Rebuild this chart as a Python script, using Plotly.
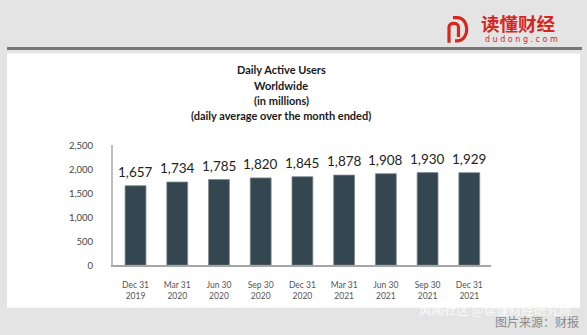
import plotly.graph_objects as go

# ---- data ----
categories = ["Dec 31<br>2019", "Mar 31<br>2020", "Jun 30<br>2020", "Sep 30<br>2020",
              "Dec 31<br>2020", "Mar 31<br>2021", "Jun 30<br>2021", "Sep 30<br>2021",
              "Dec 31<br>2021"]
dau_millions = [1657, 1734, 1785, 1820, 1845, 1878, 1908, 1930, 1929]
value_labels = ["1,657", "1,734", "1,785", "1,820", "1,845", "1,878", "1,908", "1,930", "1,929"]
y_ticks = [0, 500, 1000, 1500, 2000, 2500]
y_tick_labels = ["0", "500", "1,000", "1,500", "2,000", "2,500"]
title_lines = ["Daily Active Users", "Worldwide", "(in millions)",
               "(daily average over the month ended)"]

W, H = 587, 335


def px(x):
    return x / W


def py(y):
    return 1 - y / H


BAR = "#34464f"
RED = "#d8261d"
FONT = "Lato"

fig = go.Figure()
fig.add_trace(go.Bar(
    x=list(range(len(categories))), y=dau_millions, width=0.5,
    marker=dict(color=BAR, line=dict(color="#7d8a91", width=0.8)),
    hoverinfo="skip",
))

annotations = []
for i, (v, lab) in enumerate(zip(dau_millions, value_labels)):
    annotations.append(dict(x=i, y=v, xref="x", yref="y", text=lab, showarrow=False,
                            yanchor="bottom", yshift=4,
                            font=dict(family=FONT, size=13.5, color="#222222")))

# title lines
title_y = [66, 82, 98, 113]
for t, yy in zip(title_lines, title_y):
    annotations.append(dict(x=px(281), y=py(yy), xref="paper", yref="paper", text="<b>" + t + "</b>",
                            showarrow=False, xanchor="center", yanchor="middle",
                            font=dict(family=FONT, size=11, color="#1a1a1a")))

# logo text
annotations.append(dict(x=px(479), y=py(18), xref="paper", yref="paper", text="<b>读懂财经</b>",
                        showarrow=False, xanchor="left", yanchor="middle",
                        font=dict(family="Noto Sans CJK SC", size=18.5, color=RED)))
annotations.append(dict(x=px(483), y=py(35), xref="paper", yref="paper", text="d u d o n g . c o m",
                        showarrow=False, xanchor="left", yanchor="middle",
                        font=dict(family="DejaVu Sans", size=8, color=RED)))
# watermarks
annotations.append(dict(x=px(574), y=py(314), xref="paper", yref="paper", text="风闻社区 @读懂财经研究院",
                        showarrow=False, xanchor="right", yanchor="middle",
                        font=dict(family="Noto Sans CJK SC", size=12.5, color="rgba(255,255,255,0.85)")))
annotations.append(dict(x=px(581), y=py(326), xref="paper", yref="paper", text="图片来源：财报",
                        showarrow=False, xanchor="right", yanchor="middle",
                        font=dict(family="Noto Sans CJK SC", size=12, color="#8a8a8a")))

shapes = [
    # white panel
    dict(type="rect", xref="paper", yref="paper", x0=px(7), x1=px(580), y0=py(312), y1=py(49),
         fillcolor="white", line=dict(width=0), layer="below"),
    # header rule
    dict(type="rect", xref="paper", yref="paper", x0=px(7), x1=px(582), y0=py(45.5), y1=py(42.5),
         fillcolor="#777777", line=dict(width=0), layer="below"),
    # logo icon: D outline
    dict(type="path", xref="paper", yref="paper",
         path=(f"M {px(453)},{py(12)} L {px(457)},{py(12)} "
               f"C {px(470)},{py(12)} {px(470)},{py(36)} {px(457)},{py(36)} L {px(455)},{py(36)}"),
         line=dict(color=RED, width=3.2)),
    # logo icon: inner n
    dict(type="path", xref="paper", yref="paper",
         path=(f"M {px(449)},{py(38)} L {px(449)},{py(22)} "
               f"C {px(449)},{py(16.5)} {px(458.5)},{py(16.5)} {px(458.5)},{py(22)} L {px(458.5)},{py(32)}"),
         line=dict(color=RED, width=3.2)),
]

fig.update_layout(
    width=W, height=H, margin=dict(l=0, r=0, t=0, b=0),
    paper_bgcolor="#e4e4e4", plot_bgcolor="rgba(0,0,0,0)",
    showlegend=False, annotations=annotations, shapes=shapes,
    xaxis=dict(domain=[px(113), px(491)], range=[-0.54, 8.52],
               tickmode="array", tickvals=list(range(len(categories))), ticktext=categories,
               showline=True, linecolor="#a6a6a6", linewidth=2, showgrid=False, zeroline=False,
               ticks="outside", ticklen=11, tickcolor="rgba(0,0,0,0)",
               tickfont=dict(family=FONT, size=8.5, color="#555555"), fixedrange=True),
    yaxis=dict(domain=[py(268), py(144)], range=[0, 2500],
               tickmode="array", tickvals=y_ticks, ticktext=y_tick_labels,
               showline=True, linecolor="#bdbdbd", linewidth=2, showgrid=False, zeroline=False,
               ticks="outside", ticklen=16, tickcolor="rgba(0,0,0,0)",
               tickfont=dict(family=FONT, size=9.5, color="#444444"), fixedrange=True),
    bargap=0.5,
)

fig.write_html("out.html")
